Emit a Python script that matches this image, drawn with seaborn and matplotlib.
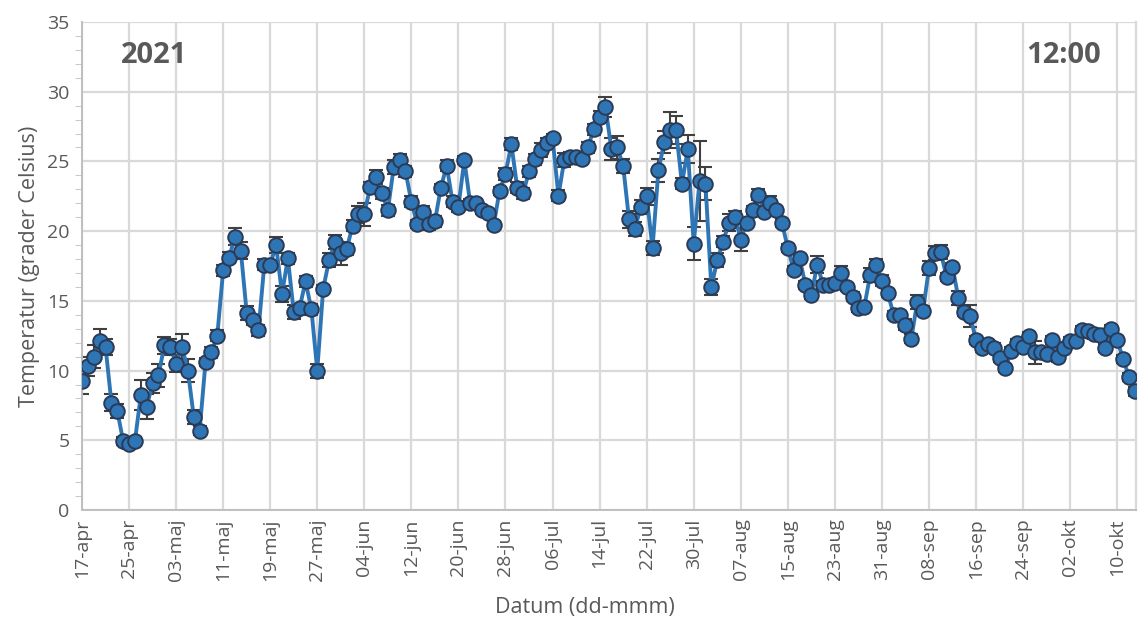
import numpy as np
import pandas as pd
import matplotlib
matplotlib.use("Agg")
import matplotlib.pyplot as plt
from matplotlib.ticker import MultipleLocator
import seaborn as sns

# Daily midday temperature (12:00), 17 April 2021 onwards
start_date = "2021-04-17"
temperature = [
    9.25, 10.3, 11.0, 12.1, 11.7, 7.7, 7.1, 4.95, 4.7, 4.95,
    8.25, 7.4, 9.1, 9.65, 11.8, 11.7, 10.5, 11.7, 10.0, 6.7,
    5.7, 10.6, 11.3, 12.5, 17.2, 18.1, 19.6, 18.6, 14.15, 13.6,
    12.9, 17.6, 17.6, 19.0, 15.5, 18.05, 14.2, 14.5, 16.4, 14.4,
    10.0, 15.85, 17.9, 19.2, 18.4, 18.7, 20.4, 21.2, 21.2, 23.2,
    23.9, 22.7, 21.5, 24.6, 25.1, 24.3, 22.1, 20.5, 21.4, 20.5,
    20.7, 23.1, 24.7, 22.1, 21.75, 25.1, 22.0, 22.0, 21.5, 21.3,
    20.45, 22.9, 24.1, 26.25, 23.1, 22.7, 24.3, 25.15, 25.8, 26.3,
    26.7, 22.55, 25.1, 25.35, 25.3, 25.2, 26.0, 27.3, 28.2, 28.9,
    25.9, 26.0, 24.7, 20.85, 20.15, 21.75, 22.5, 18.8, 24.35, 26.4,
    27.26, 27.26, 23.4, 25.9, 19.1, 23.6, 23.4, 16.0, 17.9, 19.25,
    20.6, 21.05, 19.4, 20.6, 21.5, 22.6, 21.4, 22.05, 21.5, 20.6,
    18.8, 17.2, 18.05, 16.15, 15.4, 17.6, 16.15, 16.15, 16.3, 17.0,
    16.0, 15.3, 14.5, 14.55, 16.85, 17.6, 16.45, 15.55, 14.0, 14.0,
    13.3, 12.3, 14.9, 14.3, 17.35, 18.45, 18.5, 16.7, 17.45, 15.2,
    14.2, 13.9, 12.2, 11.6, 11.9, 11.65, 10.9, 10.2, 11.4, 11.95,
    11.7, 12.45, 11.3, 11.35, 11.2, 12.2, 10.95, 11.6, 12.1, 12.1,
    12.9, 12.85, 12.6, 12.55, 11.6, 12.95, 12.2, 10.85, 9.55, 8.5,
]

# Spread around each daily value (drawn as error bars)
spread = [
    0.9, 0.7, 0.8, 0.9, 0.6, 0.6, 0.5, 0.3, 0.3, 0.3,
    1.1, 0.9, 0.7, 0.8, 0.6, 0.6, 0.6, 0.9, 0.8, 0.5,
    0.3, 0.3, 0.4, 0.4, 0.4, 0.4, 0.6, 0.6, 0.5, 0.3,
    0.4, 0.4, 0.3, 0.6, 0.6, 0.4, 0.5, 0.3, 0.4, 0.4,
    0.5, 0.3, 0.5, 0.5, 0.8, 0.4, 0.4, 0.6, 0.8, 0.3,
    0.5, 0.4, 0.4, 0.5, 0.4, 0.4, 0.4, 0.3, 0.4, 0.4,
    0.4, 0.3, 0.4, 0.4, 0.4, 0.3, 0.3, 0.3, 0.3, 0.3,
    0.3, 0.3, 0.4, 0.4, 0.4, 0.4, 0.4, 0.4, 0.5, 0.4,
    0.3, 0.4, 0.5, 0.3, 0.3, 0.3, 0.4, 0.4, 0.4, 0.7,
    0.8, 0.8, 0.5, 0.6, 0.5, 0.5, 0.6, 0.5, 0.8, 0.8,
    1.3, 1.0, 0.4, 1.0, 1.2, 2.9, 1.2, 0.6, 0.5, 0.4,
    0.6, 0.4, 0.8, 0.3, 0.3, 0.4, 0.3, 0.5, 0.3, 0.3,
    0.3, 0.3, 0.3, 0.3, 0.3, 0.6, 0.3, 0.3, 0.3, 0.5,
    0.3, 0.3, 0.3, 0.3, 0.5, 0.4, 0.4, 0.3, 0.3, 0.3,
    0.4, 0.3, 0.5, 0.3, 0.5, 0.5, 0.5, 0.3, 0.3, 0.5,
    0.3, 0.8, 0.3, 0.3, 0.3, 0.3, 0.3, 0.3, 0.3, 0.3,
    0.3, 0.3, 0.8, 0.3, 0.3, 0.3, 0.3, 0.3, 0.3, 0.3,
    0.3, 0.3, 0.3, 0.3, 0.3, 0.3, 0.3, 0.3, 0.3, 0.3,
]

month_names = ["jan", "feb", "mar", "apr", "maj", "jun",
               "jul", "aug", "sep", "okt", "nov", "dec"]
year_label = "2021"
time_label = "12:00"

dates = pd.date_range(start_date, periods=len(temperature), freq="D")
df = pd.DataFrame({"day": np.arange(len(temperature)),
                   "temp": temperature, "err": spread})

sns.set_style("white")
plt.rcParams["font.family"] = ["Open Sans", "DejaVu Sans"]

text_grey = "#595959"
grid_grey = "#D9D9D9"
axis_grey = "#BFBFBF"
blue = "#2E75B6"

fig = plt.figure(figsize=(11.38, 6.26), dpi=100)
ax = fig.add_axes([82 / 1138, 1 - 510 / 626, (1136 - 82) / 1138, (510 - 22) / 626])

ax.errorbar(df["day"], df["temp"], yerr=df["err"], fmt="none",
            ecolor="#404040", elinewidth=1.5, capsize=5, capthick=1.5, zorder=2)
sns.lineplot(data=df, x="day", y="temp", ax=ax, color=blue, linewidth=2.8,
             marker="o", markersize=10.5, markerfacecolor=blue,
             markeredgecolor="#2B3A55", markeredgewidth=1.4, zorder=3)

ax.set_xlim(0, len(temperature) - 0.8)
ax.set_ylim(0, 35)

tick_days = np.arange(0, len(temperature), 8)
ax.set_xticks(tick_days)
ax.set_xticklabels([f"{dates[d].day:02d}-{month_names[dates[d].month - 1]}"
                    for d in tick_days], rotation=90)
ax.yaxis.set_major_locator(MultipleLocator(5))
ax.yaxis.set_minor_locator(MultipleLocator(1))

ax.grid(True, which="major", color=grid_grey, linewidth=1.6)
ax.set_axisbelow(True)
ax.spines["top"].set_visible(False)
ax.spines["right"].set_color(grid_grey)
ax.spines["right"].set_linewidth(1.6)
for side in ["left", "bottom"]:
    ax.spines[side].set_color(axis_grey)
    ax.spines[side].set_linewidth(1.4)

ax.tick_params(axis="x", which="major", length=0, pad=6,
               labelsize=14, labelcolor=text_grey)
ax.tick_params(axis="y", which="major", length=5, direction="out",
               color=axis_grey, pad=4, labelsize=14, labelcolor=text_grey)
ax.tick_params(axis="y", which="minor", length=5, direction="out",
               color=axis_grey, left=True)

ax.set_xlabel("")
ax.set_ylabel("Temperatur (grader Celsius)", fontsize=15.5, color=text_grey, labelpad=5)
fig.text(585 / 1138, 1 - 608 / 626, "Datum (dd-mmm)", ha="center", va="center",
         fontsize=15.5, color=text_grey)

ax.text(0.068, 0.932, year_label, transform=ax.transAxes, ha="center",
        va="center", fontsize=21, fontweight="bold", color=text_grey)
ax.text(0.931, 0.932, time_label, transform=ax.transAxes, ha="center",
        va="center", fontsize=21, fontweight="bold", color=text_grey)

fig.savefig("out.png", dpi=100)
